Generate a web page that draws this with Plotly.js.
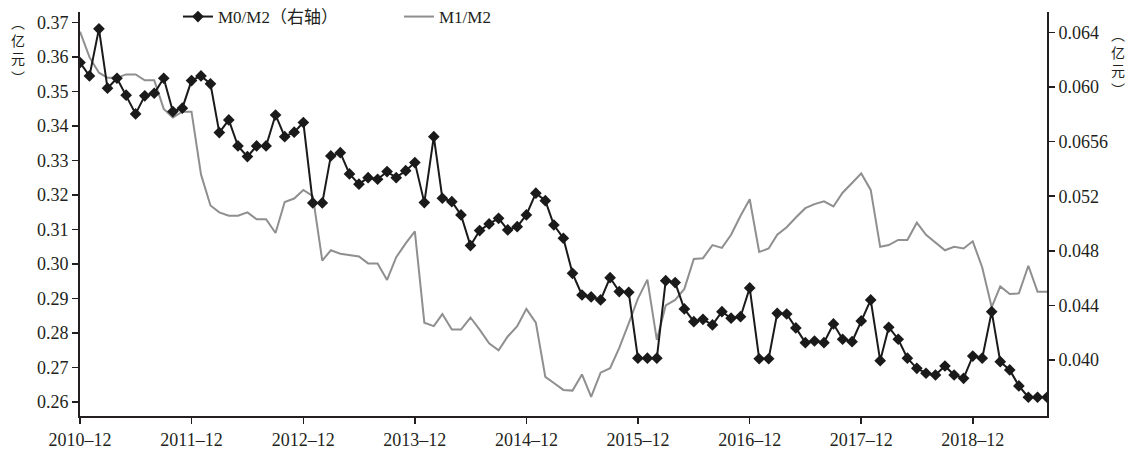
<!DOCTYPE html>
<html>
<head>
<meta charset="utf-8">
<script src="https://cdn.plot.ly/plotly-3.0.1.min.js"></script>
<style>html,body{margin:0;padding:0;background:#fff;}#chart{width:1131px;height:450px;}</style>
</head>
<body>
<div id="chart"></div>
<script>
// Monthly categories: 2010-12 .. 2019-08
const startYear = 2010, startMonth = 12, nMonths = 105;
const months = [];
for (let i = 0; i < nMonths; i++) {
  const m0 = startMonth - 1 + i;
  const y = startYear + Math.floor(m0 / 12);
  const m = (m0 % 12) + 1;
  months.push(y + '-' + String(m).padStart(2, '0') + '-01');
}

// M0/M2 (right axis)
const m0m2 = [
  0.06179, 0.06081, 0.06426, 0.05991, 0.06064, 0.05940, 0.05803, 0.05935, 0.05954, 0.06064,
  0.05820, 0.05845, 0.06047, 0.06081, 0.06023, 0.05666, 0.05759, 0.05568, 0.05490, 0.05568,
  0.05568, 0.05795, 0.05636, 0.05669, 0.05740, 0.05151, 0.05151, 0.05495, 0.05519, 0.05363,
  0.05288, 0.05336, 0.05324, 0.05380, 0.05336, 0.05387, 0.05446, 0.05153, 0.05636, 0.05185,
  0.05160, 0.05063, 0.04838, 0.04948, 0.04997, 0.05038, 0.04953, 0.04977, 0.05063, 0.05222,
  0.05167, 0.04989, 0.04892, 0.04635, 0.04476, 0.04462, 0.04440, 0.04603, 0.04501, 0.04496,
  0.04013, 0.04013, 0.04013, 0.04581, 0.04567, 0.04374, 0.04281, 0.04298, 0.04257, 0.04354,
  0.04306, 0.04317, 0.04528, 0.04009, 0.04009, 0.04342, 0.04337, 0.04235, 0.04127, 0.04139,
  0.04127, 0.04264, 0.04152, 0.04134, 0.04286, 0.04440, 0.03995, 0.04240, 0.04152, 0.04013,
  0.03939, 0.03903, 0.03890, 0.03956, 0.03890, 0.03866, 0.04029, 0.04013, 0.04354, 0.03988,
  0.03927, 0.03810, 0.03727, 0.03727, 0.03727
];

// M1/M2 (left axis)
const m1m2 = [
  0.3674, 0.3600, 0.3555, 0.3540, 0.3540, 0.3550, 0.3550, 0.3533, 0.3533, 0.3450,
  0.3425, 0.3442, 0.3442, 0.3260, 0.3170, 0.3150, 0.3140, 0.3140, 0.3150, 0.3130,
  0.3130, 0.3090, 0.3180, 0.3190, 0.3215, 0.3197, 0.3010, 0.3040, 0.3030, 0.3025,
  0.3022, 0.3002, 0.3002, 0.2954, 0.3020, 0.3060, 0.3095, 0.2830, 0.2820, 0.2855,
  0.2810, 0.2810, 0.2845, 0.2810, 0.2770, 0.2750, 0.2790, 0.2820, 0.2870, 0.2830,
  0.2673, 0.2655, 0.2635, 0.2633, 0.2680, 0.2615, 0.2685, 0.2698, 0.2757, 0.2828,
  0.2900, 0.2955, 0.2780, 0.2880, 0.2896, 0.2928, 0.3015, 0.3017, 0.3055, 0.3047,
  0.3085, 0.3140, 0.3188, 0.3035, 0.3045, 0.3085, 0.3107, 0.3135, 0.3162, 0.3174,
  0.3182, 0.3167, 0.3207, 0.3235, 0.3263, 0.3215, 0.3050, 0.3055, 0.3070, 0.3070,
  0.3120, 0.3085, 0.3063, 0.3040, 0.3050, 0.3045, 0.3066, 0.2990, 0.2875, 0.2935,
  0.2913, 0.2915, 0.2995, 0.2920, 0.2920
];

const leftTicks = [0.26, 0.27, 0.28, 0.29, 0.30, 0.31, 0.32, 0.33, 0.34, 0.35, 0.36, 0.37];
const rightTickVals = [0.040, 0.044, 0.048, 0.052, 0.056, 0.060, 0.064];
const rightTickText = ['0.040', '0.044', '0.048', '0.052', '0.0656', '0.060', '0.064'];
const xTickVals = ['2010-12-01','2011-12-01','2012-12-01','2013-12-01','2014-12-01','2015-12-01','2016-12-01','2017-12-01','2018-12-01'];
const xTickText = ['2010–12','2011–12','2012–12','2013–12','2014–12','2015–12','2016–12','2017–12','2018–12'];
const unitText = '︵<br>亿<br>元<br>︶';

const FONT = 'Liberation Serif, "Noto Sans CJK SC", serif';
const INK = '#231f20';

const traces = [
  {
    x: months, y: m0m2, name: 'M0/M2（右轴）', yaxis: 'y2', type: 'scatter', mode: 'lines+markers',
    line: {color: '#1a1a1a', width: 2},
    marker: {symbol: 'diamond', size: 9, color: '#1a1a1a'}
  },
  {
    x: months, y: m1m2, name: 'M1/M2', yaxis: 'y', type: 'scatter', mode: 'lines',
    line: {color: '#8f8f8f', width: 2}
  }
];

// pixel positions converted to paper coords
const PL = 80, PW = 967, PB = 416, PH = 404;
function px2x(p) { return (p - PL) / PW; }
function px2y(p) { return (PB - p) / PH; }

const layout = {
  width: 1131, height: 450,
  margin: {l: 80, r: 84, t: 12, b: 34, autoexpand: false},
  paper_bgcolor: '#fff', plot_bgcolor: '#fff',
  font: {family: FONT, size: 18, color: INK},
  showlegend: true,
  legend: {
    orientation: 'h', x: 0.1013, xanchor: 'left', y: px2y(17), yanchor: 'middle',
    bgcolor: 'rgba(0,0,0,0)', font: {family: FONT, size: 17, color: INK},
    entrywidth: 176, entrywidthmode: 'pixels', traceorder: 'normal'
  },
  xaxis: {
    type: 'date', range: ['2010-12-01', '2019-08-01'],
    tickvals: xTickVals, ticktext: xTickText,
    showgrid: false, zeroline: false,
    showline: true, linecolor: INK, linewidth: 2,
    ticks: 'outside', ticklen: 6, tickwidth: 1.5, tickcolor: INK,
    tickfont: {family: FONT, size: 18, color: INK}
  },
  yaxis: {
    range: [0.25594, 0.3731],
    tickvals: leftTicks, tickformat: '.2f',
    showgrid: false, zeroline: false,
    showline: true, linecolor: INK, linewidth: 2,
    ticks: 'outside', ticklen: 6, tickwidth: 1.5, tickcolor: INK,
    tickfont: {family: FONT, size: 18, color: INK}
  },
  yaxis2: {
    overlaying: 'y', side: 'right',
    range: [0.035897, 0.065494],
    tickvals: rightTickVals, ticktext: rightTickText,
    showgrid: false, zeroline: false,
    showline: true, linecolor: INK, linewidth: 2,
    ticks: 'outside', ticklen: 6, tickwidth: 1.5, tickcolor: INK,
    tickfont: {family: FONT, size: 18, color: INK}
  },
  annotations: [
    {xref: 'paper', yref: 'paper', x: px2x(18), y: px2y(10), xanchor: 'center', yanchor: 'top',
     text: unitText, showarrow: false,
     font: {family: '"Noto Sans CJK SC"', size: 14, color: INK}},
    {xref: 'paper', yref: 'paper', x: px2x(1118), y: px2y(22), xanchor: 'center', yanchor: 'top',
     text: unitText, showarrow: false,
     font: {family: '"Noto Sans CJK SC"', size: 14, color: INK}}
  ]
};

Plotly.newPlot('chart', traces, layout, {displayModeBar: false, staticPlot: true});
</script>
</body>
</html>
